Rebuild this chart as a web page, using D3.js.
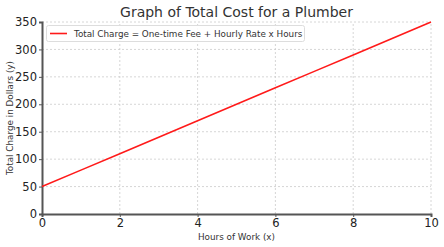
<!DOCTYPE html>
<html>
<head>
<meta charset="utf-8">
<script src="https://cdn.jsdelivr.net/npm/d3@7"></script>
<style>
  body { margin: 0; background: #fff; }
  text { font-family: "DejaVu Sans", sans-serif; }
</style>
</head>
<body>
<svg id="chart" width="444" height="247"></svg>
<script>
// data: charge = fee + rate * hours
const hours = [0, 1, 2, 3, 4, 5, 6, 7, 8, 9, 10];
const charges = [50, 80, 110, 140, 170, 200, 230, 260, 290, 320, 350];
const xTicks = [0, 2, 4, 6, 8, 10];
const yTicks = [0, 50, 100, 150, 200, 250, 300, 350];

const svg = d3.select("#chart");
const margin = {left: 42, right: 13, top: 22, bottom: 33};
const W = 444, H = 247;

const x = d3.scaleLinear().domain([0, 10]).range([margin.left, W - margin.right]);
const y = d3.scaleLinear().domain([0, 350]).range([H - margin.bottom, margin.top]);

// grid
svg.append("g").selectAll("line").data(xTicks.slice(1)).join("line")
    .attr("x1", d => x(d)).attr("x2", d => x(d))
    .attr("y1", y(0)).attr("y2", y(350))
    .attr("stroke", "#ccc").attr("stroke-width", 0.8).attr("stroke-dasharray", "2,2");
svg.append("g").selectAll("line").data(yTicks.slice(1)).join("line")
    .attr("x1", x(0)).attr("x2", x(10))
    .attr("y1", d => y(d)).attr("y2", d => y(d))
    .attr("stroke", "#ccc").attr("stroke-width", 0.8).attr("stroke-dasharray", "2,2");

// axes
const xAxis = svg.append("g")
    .attr("transform", `translate(0,${y(0)})`)
    .call(d3.axisBottom(x).tickValues(xTicks).tickSize(3).tickPadding(2));
const yAxis = svg.append("g")
    .attr("transform", `translate(${x(0)},0)`)
    .call(d3.axisLeft(y).tickValues(yTicks).tickSize(3).tickPadding(2));

[xAxis, yAxis].forEach(a => {
    a.select(".domain").attr("stroke", "#555").attr("stroke-width", 2);
    a.selectAll(".tick line").attr("stroke", "#555");
    a.selectAll(".tick text").attr("fill", "#222").style("font-size", "11.5px");
});

// line
svg.append("path")
    .datum(hours.map((h, i) => [h, charges[i]]))
    .attr("fill", "none")
    .attr("stroke", "#ff1a1a")
    .attr("stroke-width", 1.6)
    .attr("d", d3.line().x(d => x(d[0])).y(d => y(d[1])));

// title + labels
svg.append("text").attr("x", (x(0) + x(10)) / 2).attr("y", 17)
    .attr("text-anchor", "middle").style("font-size", "14px").attr("fill", "#333")
    .text("Graph of Total Cost for a Plumber");
svg.append("text").attr("x", (x(0) + x(10)) / 2).attr("y", 240)
    .attr("text-anchor", "middle").style("font-size", "8.8px").attr("fill", "#333")
    .text("Hours of Work (x)");
svg.append("text")
    .attr("transform", `translate(13,${(y(0) + y(350)) / 2}) rotate(-90)`)
    .attr("text-anchor", "middle").style("font-size", "8.8px").attr("fill", "#333")
    .text("Total Charge in Dollars (y)");

// legend
const lg = svg.append("g");
lg.append("rect").attr("x", 46.5).attr("y", 25.5).attr("width", 258).attr("height", 16)
    .attr("rx", 2).attr("fill", "#fff").attr("fill-opacity", 0.85).attr("stroke", "#ddd");
lg.append("line").attr("x1", 50).attr("x2", 67).attr("y1", 33.5).attr("y2", 33.5)
    .attr("stroke", "#ff1a1a").attr("stroke-width", 1.6);
lg.append("text").attr("x", 74).attr("y", 36.7).style("font-size", "8.8px").attr("fill", "#333")
    .text("Total Charge = One-time Fee + Hourly Rate x Hours");
</script>
</body>
</html>
